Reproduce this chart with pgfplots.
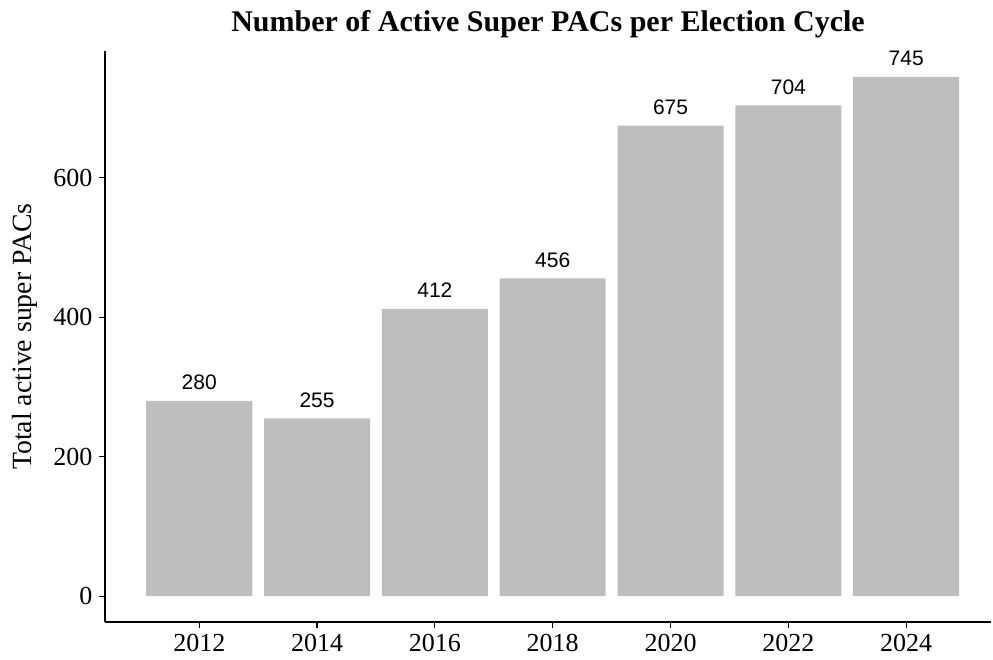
\documentclass[border=0pt]{standalone}
\usepackage{fontspec}
\setmainfont{Liberation Serif}
\newfontfamily\labelfont{Liberation Sans}
\usepackage{pgfplots}
\pgfplotsset{compat=1.18}
\definecolor{bargray}{RGB}{190,190,190}

\begin{document}
\begin{tikzpicture}
\begin{axis}[
    scale only axis,
    width=443pt,
    height=285.5pt,
    xmin=0.2, xmax=7.72,
    ymin=-37, ymax=782,
    axis lines*=left,
    axis line style={line width=1pt, black},
    tick style={line width=0.6pt, black},
    tick align=outside,
    major tick length=2.8pt,
    xtick={1,2,3,4,5,6,7},
    xticklabels={2012,2014,2016,2018,2020,2022,2024},
    ytick={0,200,400,600},
    tick label style={font=\fontsize{13}{15}\selectfont},
    /pgf/number format/assume math mode=true,
    title={\textbf{Number of Active Super PACs per Election Cycle}},
    title style={font=\fontsize{15}{18}\selectfont, at={(axis description cs:0.5,1)}, anchor=base, yshift=3.5pt},
    ylabel={Total active super PACs},
    ylabel style={font=\fontsize{13.9}{16}\selectfont, at={(axis description cs:-0.0824,0.5)}, anchor=base},
    ybar,
    bar width=0.9,
    bar shift=0pt,
    nodes near coords,
    every node near coord/.append style={font=\labelfont\fontsize{10.5}{12}\selectfont, anchor=base, yshift=5.5pt, black},
    clip=false,
]
\addplot[fill=bargray, draw=none] coordinates {
    (1,280) (2,255) (3,412) (4,456) (5,675) (6,704) (7,745)
};
\path (rel axis cs:0,0) ++(-52.5pt,-19pt) coordinate (bl);
\path (rel axis cs:1,1) ++(1pt,25.5pt) coordinate (tr);
\end{axis}
\pgfresetboundingbox
\useasboundingbox (bl) rectangle (tr);
\end{tikzpicture}
\end{document}
